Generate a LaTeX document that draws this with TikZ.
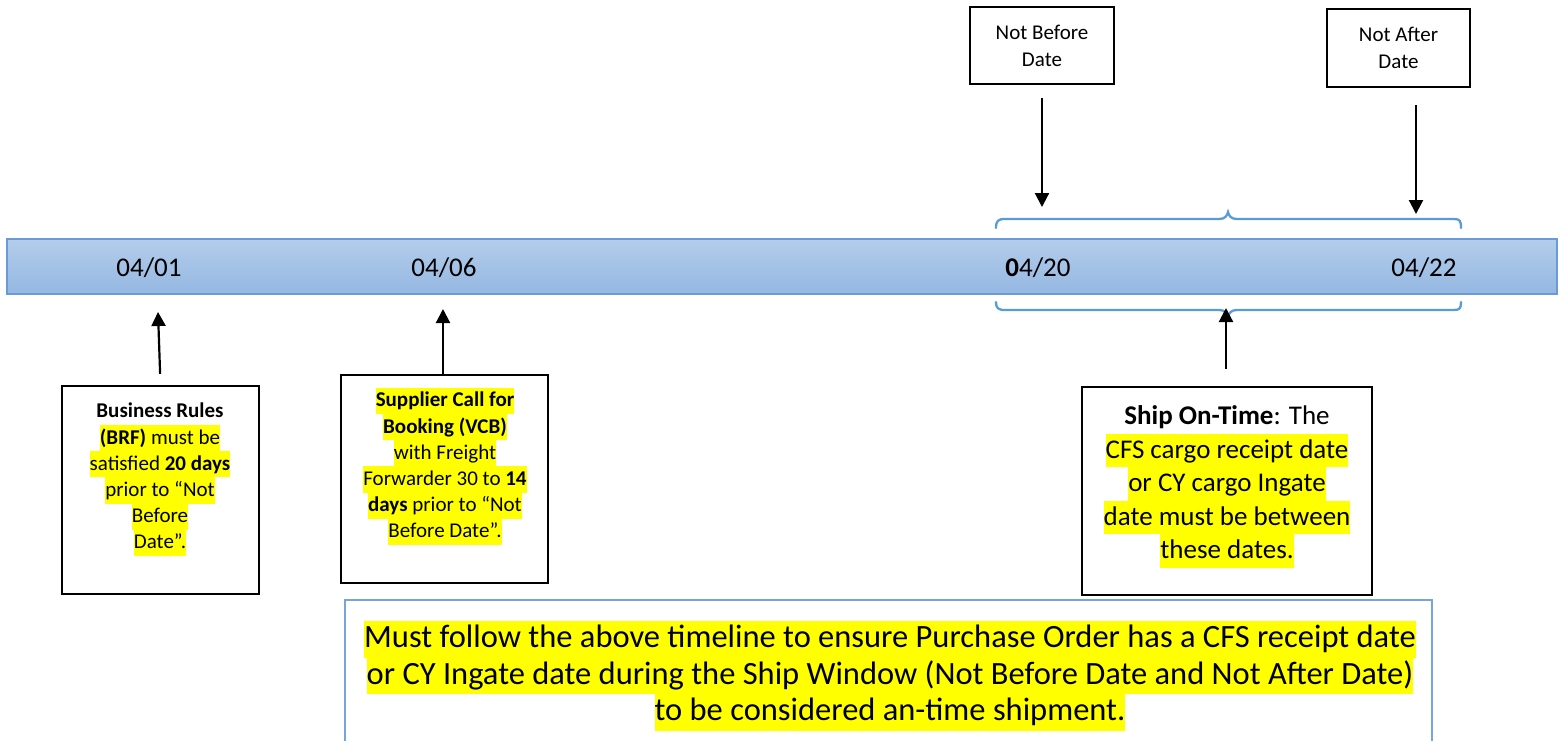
\documentclass[tikz,border=0pt]{standalone}
\usepackage{fontspec}
\setmainfont{Carlito}
\usetikzlibrary{arrows.meta}
\definecolor{hly}{HTML}{FFFF00}
\definecolor{bracecol}{HTML}{5B9BD5}
\definecolor{bartop}{HTML}{B4CDEA}
\definecolor{barbot}{HTML}{94B7E2}
\definecolor{barline}{HTML}{6A9BD6}
\definecolor{notecol}{HTML}{75A5DA}
\newcommand\hlt[1]{{\setlength\fboxsep{0pt}\colorbox{hly}{\rule[-0.27\baselineskip]{0pt}{\baselineskip}#1}}}
\newcommand\plainline[1]{\rule[-0.27\baselineskip]{0pt}{\baselineskip}#1}
\tikzset{
  datelbl/.style={inner sep=0pt, font=\fontsize{27}{30}\selectfont},
  topbox/.style={draw=black, line width=2.2pt, align=center, inner sep=0pt,
     font=\fontsize{21}{27}\selectfont},
  frame/.style={draw=black, line width=2.2pt, inner sep=0pt},
  boxtext/.style={align=center, inner sep=0pt, anchor=north},
  arr/.style={line width=2.2pt, -{Triangle[width=14pt,length=14pt]}},
  bracestyle/.style={draw=bracecol, line width=2.3pt, line cap=round},
}
\begin{document}
\begin{tikzpicture}[x=1pt,y=-1pt]
\useasboundingbox (0,0) rectangle (1561,740);
\clip (0,0) rectangle (1561,740);
% timeline bar
\node[draw=barline, line width=1.5pt, top color=bartop, bottom color=barbot,
      minimum width=1550pt, minimum height=55pt, inner sep=0pt] (bar) at (782,266.5) {};
\node[datelbl] (d1) at (149,268) {04/01};
\node[datelbl] (d2) at (444,268) {04/06};
\node[datelbl] (d3) at (1038,268) {\textbf{0}4/20};
\node[datelbl] (d4) at (1424,268) {04/22};
% braces
\draw[bracestyle] (996,228) .. controls (996,221) and (998,219) .. (1005,219) -- (1219,219)
   .. controls (1225,219) and (1227,216) .. (1228,212)
   .. controls (1229,216) and (1231,219) .. (1237,219) -- (1454,219)
   .. controls (1460,219) and (1461,221) .. (1461,228);
\draw[bracestyle] (996,302) .. controls (996,308) and (998,310) .. (1005,310) -- (1219,310)
   .. controls (1225,310) and (1227,313) .. (1228,317)
   .. controls (1229,313) and (1231,310) .. (1237,310) -- (1454,310)
   .. controls (1460,310) and (1461,308) .. (1461,302);
% top boxes
\node[topbox, minimum width=144pt, minimum height=77pt] (nbd) at (1042,45.5) {Not Before\\Date};
\node[topbox, minimum width=143pt, minimum height=78pt] (nad) at (1398.5,48) {Not After\\Date};
\coordinate (nbdend) at (1042,207);
\coordinate (nadend) at (1416,214);
\draw[arr, shorten <=13pt] (nbd.south) -- (nbdend);
\draw[arr, shorten <=17pt] (nadend |- nad.south) -- (nadend);
% lower boxes
\node[frame, minimum width=197pt, minimum height=208pt] (brf) at (160.5,490) {};
\node[boxtext, font=\fontsize{21}{26.2}\selectfont] (brft) at (160,398.5) {%
  \plainline{\textbf{Business Rules}}\\
  \hlt{\textbf{(BRF)} must be}\\
  \hlt{satisfied \textbf{20 days}}\\
  \hlt{prior to “Not}\\
  \hlt{Before}\\
  \hlt{Date”.}};
\coordinate (brfend) at (158,312);
\draw[arr, shorten <=11pt] (brf.north) -- (brfend);

\node[frame, minimum width=207pt, minimum height=208pt] (vcb) at (444.5,479) {};
\node[boxtext, font=\fontsize{21}{26.2}\selectfont] (vcbt) at (445,387.5) {%
  \hlt{\textbf{Supplier Call for}}\\
  \hlt{\textbf{Booking (VCB)}}\\
  \hlt{with Freight}\\
  \hlt{Forwarder 30 to \textbf{14}}\\
  \hlt{\textbf{days} prior to “Not}\\
  \hlt{Before Date”.}};
\coordinate (vcbend) at (443,309);
\draw[arr] (vcb.north -| vcbend) -- (vcbend);

\node[frame, minimum width=290pt, minimum height=208pt] (ship) at (1227,491) {};
\node[boxtext, font=\fontsize{27}{33.5}\selectfont] (shipt) at (1227,400) {%
  \plainline{\textbf{Ship On-Time}: The}\\
  \hlt{CFS cargo receipt date}\\
  \hlt{or CY cargo Ingate}\\
  \hlt{date must be between}\\
  \hlt{these dates.}};
\coordinate (shipend) at (1226,308);
\draw[arr, shorten <=17pt] (ship.north -| shipend) -- (shipend);

% bottom note
\node[draw=notecol, line width=2pt, minimum width=1087pt, minimum height=150pt, inner sep=0pt] (note) at (888.5,675) {};
\node[boxtext, font=\fontsize{32.5}{36.5}\selectfont] (notet) at (890,621) {%
  \hlt{Must follow the above timeline to ensure Purchase Order has a CFS receipt date}\\
  \hlt{or CY Ingate date during the Ship Window (Not Before Date and Not After Date)}\\
  \hlt{to be considered an-time shipment.}};
\end{tikzpicture}
\end{document}
